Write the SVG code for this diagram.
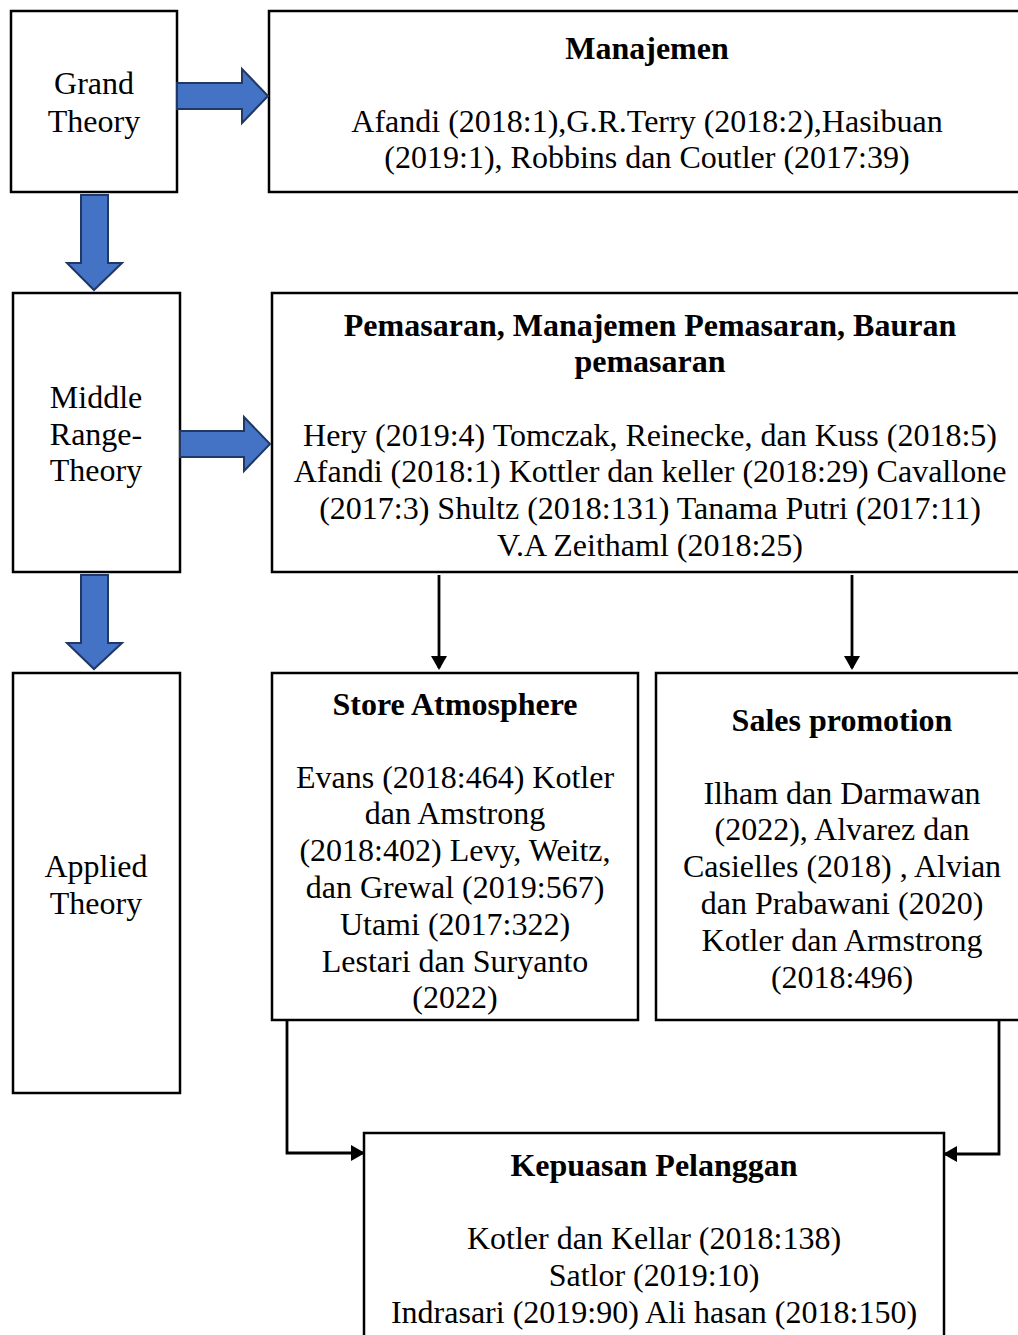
<svg xmlns="http://www.w3.org/2000/svg" width="1018" height="1335" viewBox="0 0 1018 1335">
<style>
.box{fill:#fff;stroke:#000;stroke-width:2.5}
.t{font-family:"Liberation Serif","Times New Roman",serif;font-size:32px;fill:#000;text-anchor:middle}
.b{font-weight:bold}
.blk{fill:#4472C4;stroke:#1F3864;stroke-width:2;stroke-linejoin:miter}
.con{fill:none;stroke:#000;stroke-width:2.8}
</style>
<defs>
<marker id="ah" markerWidth="14" markerHeight="16" refX="12" refY="8" orient="auto" markerUnits="userSpaceOnUse">
<path d="M0,0 L14,8 L0,16 Z" fill="#000"/>
</marker>
</defs>
<rect width="1018" height="1335" fill="#fff"/>
<g id="grand">
<rect class="box" x="11" y="11" width="166" height="181"/>
<text class="t" x="94" y="94">Grand</text>
<text class="t" x="94" y="132">Theory</text>
</g>
<g id="manajemen">
<rect class="box" x="269" y="11" width="770" height="181"/>
<text class="t b" x="647" y="59">Manajemen</text>
<text class="t" x="647" y="132">Afandi (2018:1),G.R.Terry (2018:2),Hasibuan</text>
<text class="t" x="647" y="168">(2019:1), Robbins dan Coutler (2017:39)</text>
</g>
<g id="middle">
<rect class="box" x="13" y="293" width="167" height="279"/>
<text class="t" x="96" y="408">Middle</text>
<text class="t" x="96" y="445">Range-</text>
<text class="t" x="96" y="481">Theory</text>
</g>
<g id="pemasaran">
<rect class="box" x="272" y="293" width="767" height="279"/>
<text class="t b" x="650" y="336">Pemasaran, Manajemen Pemasaran, Bauran</text>
<text class="t b" x="650" y="372">pemasaran</text>
<text class="t" x="650" y="446">Hery (2019:4) Tomczak, Reinecke, dan Kuss (2018:5)</text>
<text class="t" x="650" y="482">Afandi (2018:1) Kottler dan keller (2018:29) Cavallone</text>
<text class="t" x="650" y="519">(2017:3) Shultz (2018:131) Tanama Putri (2017:11)</text>
<text class="t" x="650" y="556">V.A Zeithaml (2018:25)</text>
</g>
<g id="applied">
<rect class="box" x="13" y="673" width="167" height="420"/>
<text class="t" x="96" y="877">Applied</text>
<text class="t" x="96" y="914">Theory</text>
</g>
<g id="store">
<rect class="box" x="272" y="673" width="366" height="347"/>
<text class="t b" x="455" y="715">Store Atmosphere</text>
<text class="t" x="455" y="788">Evans (2018:464) Kotler</text>
<text class="t" x="455" y="824">dan Amstrong</text>
<text class="t" x="455" y="861">(2018:402) Levy, Weitz,</text>
<text class="t" x="455" y="898">dan Grewal (2019:567)</text>
<text class="t" x="455" y="935">Utami (2017:322)</text>
<text class="t" x="455" y="972">Lestari dan Suryanto</text>
<text class="t" x="455" y="1008">(2022)</text>
</g>
<g id="sales">
<rect class="box" x="656" y="673" width="383" height="347"/>
<text class="t b" x="842" y="731">Sales promotion</text>
<text class="t" x="842" y="804">Ilham dan Darmawan</text>
<text class="t" x="842" y="840">(2022), Alvarez dan</text>
<text class="t" x="842" y="877">Casielles (2018) , Alvian</text>
<text class="t" x="842" y="914">dan Prabawani (2020)</text>
<text class="t" x="842" y="951">Kotler dan Armstrong</text>
<text class="t" x="842" y="988">(2018:496)</text>
</g>
<g id="kepuasan">
<rect class="box" x="364" y="1133" width="580" height="230"/>
<text class="t b" x="654" y="1176">Kepuasan Pelanggan</text>
<text class="t" x="654" y="1249">Kotler dan Kellar (2018:138)</text>
<text class="t" x="654" y="1286">Satlor (2019:10)</text>
<text class="t" x="654" y="1323">Indrasari (2019:90) Ali hasan (2018:150)</text>
</g>
<g id="connectors">
<polygon class="blk" points="177,83 242,83 242,69 268,96 242,123 242,109 177,109"/>
<polygon class="blk" points="81,195 108,195 108,263 122,263 94,290 67,263 81,263"/>
<polygon class="blk" points="180,431 244,431 244,417 270,444 244,471 244,457 180,457"/>
<polygon class="blk" points="81,575 108,575 108,643 122,643 94,669 67,643 81,643"/>
<line class="con" x1="439" y1="575" x2="439" y2="668" marker-end="url(#ah)"/>
<line class="con" x1="852" y1="575" x2="852" y2="668" marker-end="url(#ah)"/>
<polyline class="con" points="287,1020 287,1153 363,1153" marker-end="url(#ah)"/>
<polyline class="con" points="999,1020 999,1154 945,1154" marker-end="url(#ah)"/>
</g>
</svg>
